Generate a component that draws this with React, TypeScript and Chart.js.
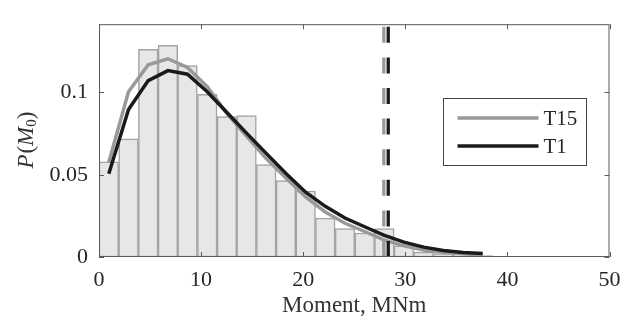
import React, { useEffect, useRef } from "react";
import { Chart, registerables } from "chart.js";

Chart.register(...registerables);

// Histogram bin centres (MNm), bin width ~1.93
const binCenters = [0.96, 2.89, 4.82, 6.75, 8.67, 10.6, 12.53, 14.45, 16.38, 18.31, 20.24, 22.16, 24.09, 26.02, 27.95, 29.87, 31.8, 33.73, 35.66, 37.58];
const histValues = [0.0578, 0.0719, 0.1262, 0.1287, 0.1164, 0.0989, 0.0854, 0.086, 0.0561, 0.0464, 0.0401, 0.0236, 0.0173, 0.0146, 0.0173, 0.0068, 0.003, 0.0021, 0.0015, 0.0008];
const t15Values = [0.0576, 0.1004, 0.1168, 0.1205, 0.1152, 0.1035, 0.0872, 0.0735, 0.0598, 0.048, 0.0365, 0.0274, 0.0205, 0.0155, 0.0103, 0.0068, 0.0043, 0.0029, 0.0019, 0.0014];
const t1Values = [0.0506, 0.0896, 0.1072, 0.1133, 0.1111, 0.1004, 0.0878, 0.0753, 0.063, 0.0508, 0.0394, 0.0308, 0.0237, 0.0184, 0.0131, 0.009, 0.006, 0.004, 0.0027, 0.0021];
const seriesLabels = ["T15", "T1"];
const meanT15 = 27.9;
const meanT1 = 28.33;
const xTicks = [0, 10, 20, 30, 40, 50];
const yTicks = [0, 0.05, 0.1];
const xLabel = "Moment, MNm";

const SERIF = '"Liberation Serif", "Times New Roman", serif';
const GRAY = "#999999";
const BLACK = "#1a1a1a";

const framePlugin = {
  id: "frameTicks",
  afterDatasetsDraw(chart: any) {
    const { ctx, chartArea: a, scales } = chart;
    const xs = scales.x;
    const ys = scales.y;
    // dashed mean lines
    const drawMean = (v: number, color: string) => {
      const px = xs.getPixelForValue(v);
      ctx.save();
      ctx.strokeStyle = color;
      ctx.lineWidth = 3.3;
      ctx.setLineDash([16, 14.6]);
      ctx.beginPath();
      ctx.moveTo(px, ys.getPixelForValue(0));
      ctx.lineTo(px, a.top);
      ctx.stroke();
      ctx.restore();
    };
    drawMean(meanT15, GRAY);
    drawMean(meanT1, BLACK);

    ctx.save();
    ctx.strokeStyle = "#5a5a5a";
    ctx.lineWidth = 1;
    ctx.strokeRect(a.left + 0.5, a.top + 0.5, a.right - a.left - 1, a.bottom - a.top - 1);
    const tl = 5;
    ctx.beginPath();
    xTicks.forEach((v) => {
      const p = Math.round(xs.getPixelForValue(v)) + 0.5;
      ctx.moveTo(p, a.bottom);
      ctx.lineTo(p, a.bottom - tl);
      ctx.moveTo(p, a.top);
      ctx.lineTo(p, a.top + tl);
    });
    yTicks.forEach((v) => {
      const p = Math.round(ys.getPixelForValue(v)) + 0.5;
      ctx.moveTo(a.left, p);
      ctx.lineTo(a.left + tl, p);
      ctx.moveTo(a.right, p);
      ctx.lineTo(a.right - tl, p);
    });
    ctx.stroke();
    ctx.restore();
  },
  afterDraw(chart: any) {
    const { ctx, chartArea: a } = chart;
    // legend
    const bx = a.right - 166;
    const by = 98.5;
    const bw = 143;
    const bh = 67;
    ctx.save();
    ctx.fillStyle = "#ffffff";
    ctx.fillRect(bx, by, bw, bh);
    ctx.strokeStyle = "#444444";
    ctx.lineWidth = 1;
    ctx.strokeRect(bx, by, bw, bh);
    const items = [
      { label: seriesLabels[0], color: GRAY, y: by + 19.5 },
      { label: seriesLabels[1], color: BLACK, y: by + 47.5 },
    ];
    ctx.font = `21px ${SERIF}`;
    ctx.textBaseline = "middle";
    ctx.textAlign = "left";
    items.forEach((it) => {
      ctx.strokeStyle = it.color;
      ctx.lineWidth = 3.5;
      ctx.beginPath();
      ctx.moveTo(bx + 14, it.y);
      ctx.lineTo(bx + 95, it.y);
      ctx.stroke();
      ctx.fillStyle = "#262626";
      ctx.fillText(it.label, bx + 100, it.y + 1);
    });
    ctx.restore();

    // y-axis title P(M_0)
    ctx.save();
    ctx.translate(27, (a.top + a.bottom) / 2);
    ctx.rotate(-Math.PI / 2);
    const pieces = [
      { t: "P", f: `italic 23px ${SERIF}`, dy: 0 },
      { t: "(", f: `23px ${SERIF}`, dy: 0 },
      { t: "M", f: `italic 23px ${SERIF}`, dy: 0 },
      { t: "0", f: `15px ${SERIF}`, dy: 5 },
      { t: ")", f: `23px ${SERIF}`, dy: 0 },
    ];
    let total = 0;
    const widths = pieces.map((p) => {
      ctx.font = p.f;
      const w = ctx.measureText(p.t).width;
      total += w;
      return w;
    });
    let x = -total / 2;
    ctx.fillStyle = "#333333";
    ctx.textBaseline = "middle";
    ctx.textAlign = "left";
    pieces.forEach((p, i) => {
      ctx.font = p.f;
      ctx.fillText(p.t, x, p.dy);
      x += widths[i] + (p.t === "P" ? 1 : 0);
    });
    ctx.restore();
  },
};

export default function App() {
  const ref = useRef<HTMLCanvasElement | null>(null);
  useEffect(() => {
    if (!ref.current) return;
    const toXY = (vals: number[]) => vals.map((v, i) => ({ x: binCenters[i], y: v }));
    const chart = new Chart(ref.current, {
      type: "bar",
      data: {
        datasets: [
          {
            type: "bar",
            label: "hist",
            data: toXY(histValues),
            backgroundColor: "#e6e7e9",
            borderColor: "#a3a3a3",
            borderWidth: 1.5,
            borderSkipped: false,
            barPercentage: 1,
            categoryPercentage: 1,
            order: 2,
          } as any,
          {
            type: "line",
            label: seriesLabels[0],
            data: toXY(t15Values),
            borderColor: GRAY,
            borderWidth: 3.5,
            pointRadius: 0,
            tension: 0,
            fill: false,
            order: 1,
          },
          {
            type: "line",
            label: seriesLabels[1],
            data: toXY(t1Values),
            borderColor: BLACK,
            borderWidth: 3.5,
            pointRadius: 0,
            tension: 0,
            fill: false,
            order: 0,
          },
        ],
      },
      options: {
        responsive: false,
        animation: false,
        devicePixelRatio: 1,
        layout: { padding: { left: 0, top: 9, right: 25.5, bottom: 0 } },
        plugins: { legend: { display: false }, tooltip: { enabled: false } },
        scales: {
          x: {
            type: "linear",
            min: 0,
            max: 50,
            offset: false,
            grid: { display: false, offset: false, drawTicks: false },
            border: { display: false },
            afterBuildTicks: (s: any) => {
              s.ticks = xTicks.map((v) => ({ value: v }));
            },
            afterFit: (s: any) => {
              s.height = 65;
            },
            ticks: {
              padding: 10,
              color: "#262626",
              font: { family: SERIF, size: 22 },
              maxRotation: 0,
              callback: (v: any) => String(v),
            },
            title: {
              display: true,
              text: xLabel,
              color: "#333333",
              font: { family: SERIF, size: 23 },
              padding: { top: 0, bottom: 2 },
            },
          },
          y: {
            type: "linear",
            min: 0,
            max: 0.1415,
            grid: { display: false, drawTicks: false },
            border: { display: false },
            afterBuildTicks: (s: any) => {
              s.ticks = yTicks.map((v) => ({ value: v }));
            },
            afterFit: (s: any) => {
              s.width = 99;
            },
            ticks: {
              padding: 11,
              color: "#262626",
              font: { family: SERIF, size: 22 },
              callback: (v: any) => String(v),
            },
          },
        },
      },
      plugins: [framePlugin],
    });
    return () => chart.destroy();
  }, []);
  return (
    <canvas
      ref={ref}
      width={635}
      height={322}
      style={{ position: "fixed", left: 0, top: 0, width: 635, height: 322 }}
    />
  );
}
